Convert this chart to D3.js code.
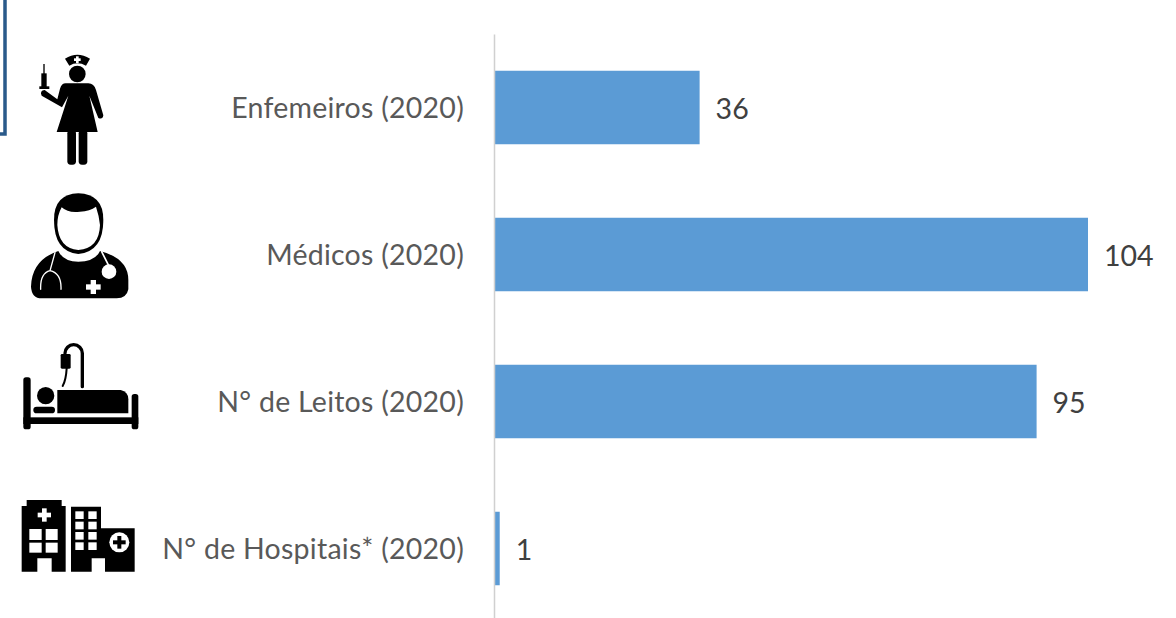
<!DOCTYPE html>
<html><head><meta charset="utf-8">
<script src="https://cdn.jsdelivr.net/npm/d3@7/dist/d3.min.js"></script>
<style>html,body{margin:0;padding:0;background:#fff;overflow:hidden}svg{display:block}</style>
</head><body><div id="c"></div>
<script>
const categories = ["Enfemeiros (2020)","Médicos (2020)","N° de Leitos (2020)","N° de Hospitais* (2020)"];
const values = [36,104,95,1];

const W=1176,H=618;
const svg=d3.select("#c").append("svg").attr("width",W).attr("height",H);
const x=d3.scaleLinear().domain([0,104]).range([494,1088]);
const y=d3.scaleBand().domain(categories).range([34,622]).paddingInner(.5).paddingOuter(.25);
const FONT="Lato, 'Open Sans', sans-serif";

// frame fragment at top-left
svg.append("path").attr("d","M5 0V134H0").attr("fill","none").attr("stroke","#2a5a8a").attr("stroke-width",3.5);

svg.selectAll("rect.bar").data(values).join("rect").attr("class","bar")
 .attr("x",x(0)).attr("y",(d,i)=>y(categories[i])).attr("width",d=>x(d)-x(0)).attr("height",y.bandwidth()).attr("fill","#5b9bd5");

const ax=svg.append("g").attr("transform",`translate(${x(0)},0)`).call(d3.axisLeft(y).tickSize(0).tickPadding(30));
ax.select(".domain").attr("stroke","#d0d0d0").attr("stroke-width",1.5);
ax.selectAll("text").attr("font-family",FONT).attr("font-size",28.5).attr("letter-spacing",0.25).attr("fill","#595959").attr("dy","0.36em");

svg.selectAll("text.val").data(values).join("text").attr("class","val")
 .attr("x",d=>x(d)+16).attr("y",(d,i)=>y(categories[i])+y.bandwidth()/2).attr("dy","0.41em")
 .attr("font-family",FONT).attr("font-size",28.5).attr("fill","#404040").text(d=>d);

// pictograms (drawn in 3x local units)
const gTop=svg.append("g").attr("transform","translate(0,30) scale(0.33333)");
const gBot=svg.append("g").attr("transform","translate(0,330) scale(0.33333)");
const K="#000",Wh="#fff";
const p=(g,d,f=K)=>g.append("path").attr("d",d).attr("fill",f);
const s=(g,d,c,w)=>g.append("path").attr("d",d).attr("fill","none").attr("stroke",c).attr("stroke-width",w).attr("stroke-linecap","round");
const c=(g,cx,cy,r,f=K)=>g.append("circle").attr("cx",cx).attr("cy",cy).attr("r",r).attr("fill",f);
const r=(g,a,b,w,h,f=K,rx=0)=>g.append("rect").attr("x",a).attr("y",b).attr("width",w).attr("height",h).attr("fill",f).attr("rx",rx);

// nurse
p(gTop,"M195 86Q232 62 270 86L258 107Q232 93 208 107Z");
r(gTop,228,79,8,20,Wh);r(gTop,222,85,20,8,Wh);
c(gTop,232,132,25);
p(gTop,"M197 160L265 160Q282 160 288 180L310 256Q308 270 295 264L268 197L293 306L170 306L205 197L186 232L125 197Q118 182 134 180L172 208L180 176Q185 160 197 160Z");
r(gTop,202,300,26,104,K,10);r(gTop,236,300,26,104,K,10);
r(gTop,124,130,16,44);r(gTop,130,102,4,30);r(gTop,118,169,30,8);

// doctor
p(gTop,"M235 490Q310 492 310 570Q310 665 235 672Q162 665 162 570Q162 492 235 490Z");
p(gTop,"M185 532Q205 550 240 545Q270 543 288 530Q298 560 300 585Q298 655 235 660Q176 655 172 585Q172 555 185 532Z",Wh);
p(gTop,"M175 663Q190 695 235 695Q285 695 300 663Q385 685 385 750L385 778Q380 805 350 805L125 805Q95 805 93 770Q95 690 175 663Z");
s(gTop,"M165 668L150 722Q120 730 122 778M150 722Q185 730 183 778",Wh,4);
s(gTop,"M305 665L325 705",Wh,5);
c(gTop,327,725,22,Wh);
r(gTop,272,750,16,42,Wh);r(gTop,258,763,44,16,Wh);

// bed
r(gBot,70,142,22,156,K,8);r(gBot,395,192,20,106,K,8);r(gBot,70,262,345,20);
c(gBot,137,197,26);r(gBot,100,230,65,20,K,10);
p(gBot,"M172 180L362 180Q385 185 385 208L385 250L172 250Z");
s(gBot,"M247 170V70A26 26 0 0 0 195 70",K,10);
r(gBot,182,72,30,44,K,4);
s(gBot,"M200 115Q198 150 188 168",K,6);

// hospital
p(gBot,"M80 510H185V528H197V725H155V685H112V725H65V528H80Z");
[[88,597,37,33],[137,597,36,33],[88,638,37,30],[137,638,36,30]].forEach(a=>r(gBot,a[0],a[1],a[2],a[3],Wh));
r(gBot,126,535,14,40,Wh);r(gBot,113,548,40,14,Wh);
p(gBot,"M213 530H303V595H404V725H315V685H275V725H213Z");
[544,575,606,637].forEach(b=>[226,265].forEach(a=>r(gBot,a,b,25,23,Wh)));
c(gBot,358,637,30,Wh);r(gBot,352,618,12,38);r(gBot,339,631,38,12);
</script></body></html>
